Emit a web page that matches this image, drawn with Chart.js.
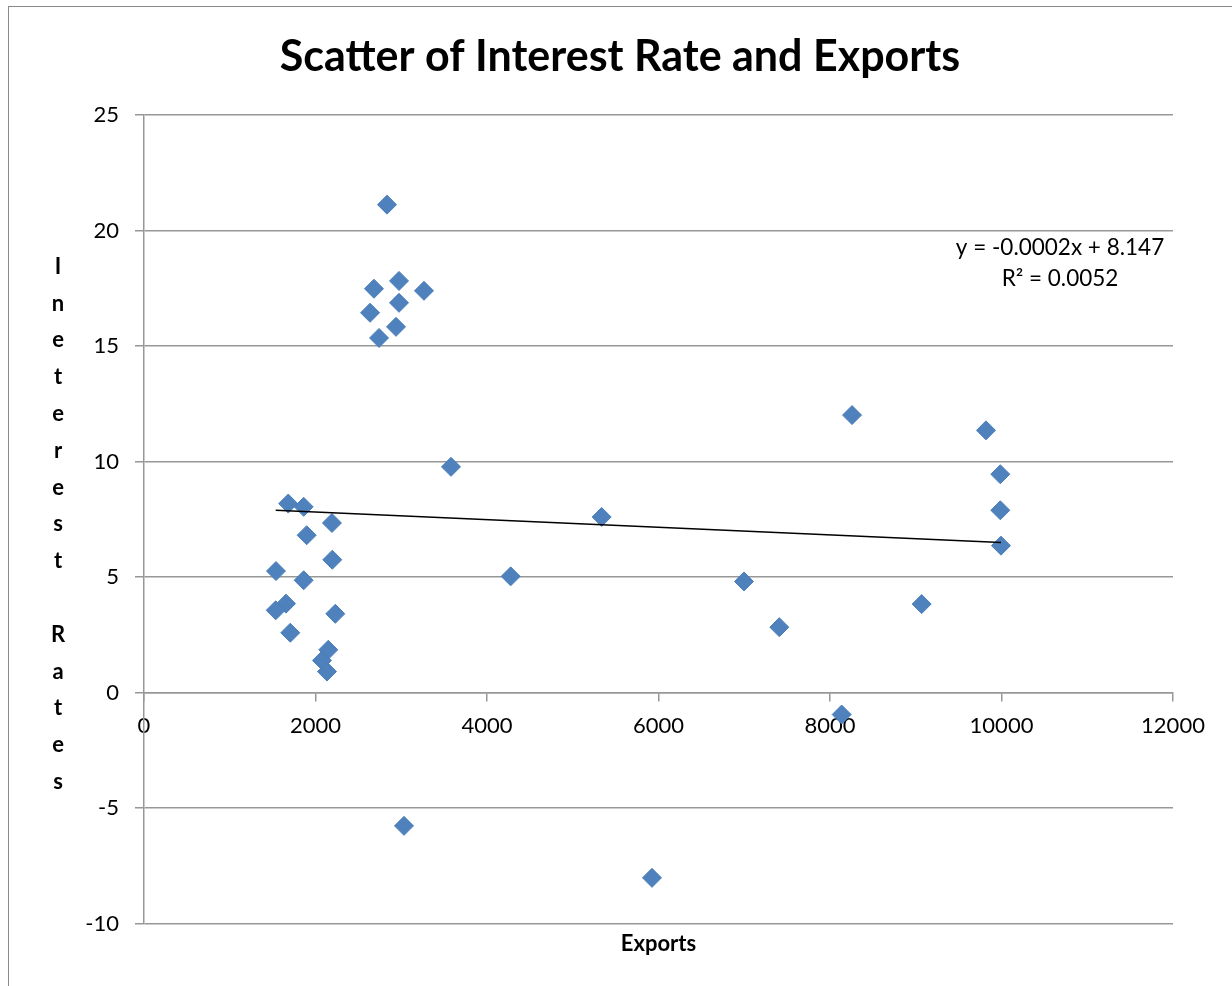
<!DOCTYPE html>
<html>
<head>
<meta charset="utf-8">
<script src="https://cdn.jsdelivr.net/npm/chart.js@4"></script>
<style>
  html, body { margin: 0; padding: 0; background: #fff; overflow: hidden; }
  #frame { position: absolute; left: 8px; top: 6px; width: 1400px; height: 1200px; border: 1.5px solid #8a8a8a; }
  #wrap { position: absolute; left: 0; top: 0; width: 1232px; height: 986px; }
</style>
</head>
<body>
<div id="frame"></div>
<div id="wrap"><canvas id="chart"></canvas></div>
<script>
const EXPORTS = [2834, 2682, 2974, 3265, 2974, 2636, 2939, 2741, 3580, 5337, 4276, 8257,
                 9819, 9986, 9986, 9994, 6997, 7409, 9069, 8136, 3032, 5924,
                 1682, 1862, 2192, 1897, 2196, 1539, 1862, 1656, 1536, 2231, 1706, 2149, 2076, 2134];
const RATES   = [21.12, 17.48, 17.82, 17.39, 16.87, 16.44, 15.83, 15.35, 9.77, 7.60, 5.03, 12.01,
                 11.35, 9.45, 7.89, 6.36, 4.81, 2.83, 3.83, -0.95, -5.77, -8.02,
                 8.18, 8.04, 7.34, 6.81, 5.75, 5.26, 4.86, 3.85, 3.56, 3.41, 2.59, 1.85, 1.39, 0.91];

const TITLE = 'Scatter of Interest Rate and Exports';
const X_TITLE = 'Exports';
const Y_TITLE = 'Ineterest Rates';
const EQUATION = ['y = -0.0002x + 8.147', 'R\u00b2 = 0.0052'];

const FONT = 'Lato, "Open Sans", sans-serif';
const GRID = '#979797';

// least squares trend line over the data range
const n = EXPORTS.length;
const mx = EXPORTS.reduce((a, b) => a + b, 0) / n;
const my = RATES.reduce((a, b) => a + b, 0) / n;
let sxy = 0, sxx = 0;
EXPORTS.forEach((x, i) => { sxy += (x - mx) * (RATES[i] - my); sxx += (x - mx) * (x - mx); });
const slope = sxy / sxx;
const icept = my - slope * mx;
const xMin = Math.min(...EXPORTS), xMax = Math.max(...EXPORTS);

const extraText = {
  id: 'extraText',
  afterDraw(chart) {
    const { ctx, chartArea } = chart;
    ctx.save();
    ctx.fillStyle = '#000';
    ctx.textAlign = 'center';
    ctx.textBaseline = 'middle';
    // chart title, centred on the outer frame
    ctx.font = 'bold 43px ' + FONT;
    ctx.fillText(TITLE, chart.width / 2 + 4, 57);
    // vertical stacked axis title
    ctx.font = 'bold 22px ' + FONT;
    const letters = Y_TITLE.split('');
    const step = 36.8;
    const cy = (chartArea.top + chartArea.bottom) / 2 + 5;
    const y0 = cy - step * (letters.length - 1) / 2;
    letters.forEach((c, i) => ctx.fillText(c, 58, y0 + i * step));
    // trend equation
    ctx.font = '22.5px ' + FONT;
    const ys = chart.scales.y;
    ctx.fillText(EQUATION[0], chartArea.right - 113, ys.getPixelForValue(19.25));
    ctx.fillText(EQUATION[1], chartArea.right - 113, ys.getPixelForValue(19.25) + 31);
    ctx.restore();
  }
};

new Chart(document.getElementById('chart'), {
  type: 'scatter',
  data: {
    datasets: [
      {
        label: 'Interest Rates',
        data: EXPORTS.map((x, i) => ({ x: x, y: RATES[i] })),
        pointStyle: 'rectRot',
        pointRadius: 9.5,
        pointHoverRadius: 9.5,
        backgroundColor: '#4F81BD',
        borderColor: '#4A7EBB',
        borderWidth: 1,
        order: 2
      },
      {
        type: 'line',
        label: 'Linear',
        data: [{ x: xMin, y: icept + slope * xMin }, { x: xMax, y: icept + slope * xMax }],
        borderColor: '#000',
        borderWidth: 1.5,
        pointRadius: 0,
        fill: false,
        order: 1
      }
    ]
  },
  options: {
    responsive: true,
    maintainAspectRatio: false,
    animation: false,
    layout: { padding: { left: 0, right: 59, top: 115, bottom: 0 } },
    plugins: {
      legend: { display: false },
      tooltip: { enabled: false },
      title: { display: false },
      subtitle: {
        display: true,
        position: 'bottom',
        fullSize: false,
        text: X_TITLE,
        color: '#000',
        font: { family: FONT, size: 22, weight: 'bold' },
        padding: { top: 7, bottom: 29 }
      }
    },
    scales: {
      x: {
        type: 'linear',
        position: { y: 0 },
        min: 0,
        max: 12000,
        ticks: { stepSize: 2000, color: '#000', padding: 12, font: { family: FONT, size: 22 }, callback: v => String(v) },
        grid: { drawOnChartArea: false, drawTicks: true, tickLength: 8, color: GRID, lineWidth: 1.5 },
        border: { color: GRID, width: 1.5 }
      },
      y: {
        min: -10,
        max: 25,
        ticks: { stepSize: 5, color: '#000', padding: 16, font: { family: FONT, size: 22 } },
        grid: { color: GRID, lineWidth: 1.5, tickLength: 9 },
        border: { color: GRID, width: 1.5 },
        afterFit(scale) { scale.width = 144; }
      }
    }
  },
  plugins: [extraText]
});
</script>
</body>
</html>
